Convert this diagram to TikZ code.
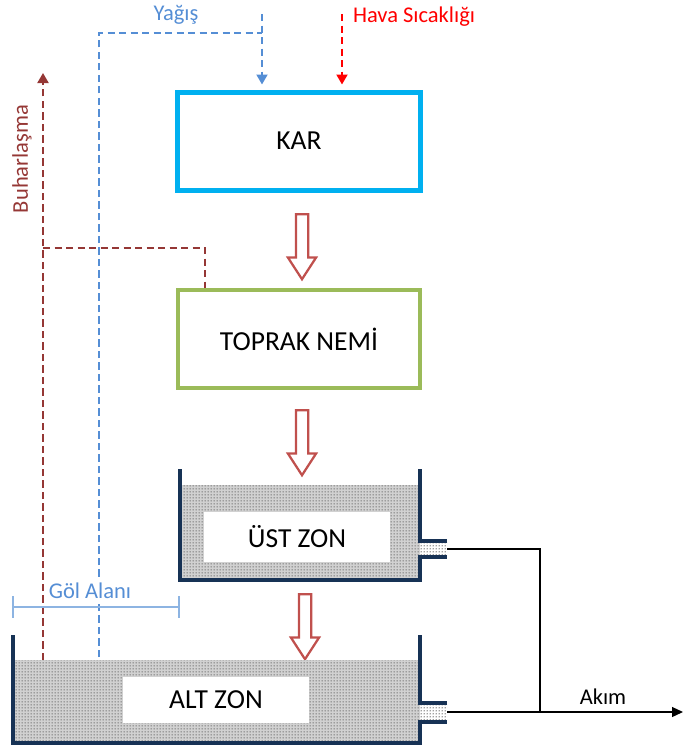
\documentclass[tikz,border=0pt]{standalone}
\usepackage{fontspec}
\setmainfont{Carlito}
\usepackage{tikz}
\usetikzlibrary{arrows.meta,positioning,calc,shapes.arrows,patterns.meta}
\definecolor{karC}{RGB}{0,176,240}
\definecolor{nemC}{RGB}{155,187,89}
\definecolor{okC}{RGB}{192,80,77}
\definecolor{tankC}{RGB}{23,50,85}
\definecolor{buhC}{RGB}{149,55,53}
\definecolor{yagC}{RGB}{85,142,213}
\definecolor{golC}{RGB}{141,180,226}
\tikzdeclarepattern{
  name=finedots,
  type=uncolored,
  bottom left={(0pt,0pt)},
  top right={(1.2pt,1.2pt)},
  tile size={(1.2pt,1.2pt)},
  code={\fill (0.6pt,0.6pt) circle (0.32pt);}
}

\begin{document}
\begin{tikzpicture}[
  x=0.4pt,y=-0.4pt,
  kutu/.style={rectangle,minimum width=96.8pt,minimum height=39.2pt,inner sep=0pt,font=\fontsize{11}{13}\selectfont},
  bos/.style={single arrow,draw=okC,fill=white,line width=0.9pt,minimum height=26pt,minimum width=10.4pt,
              single arrow head extend=3.2pt,single arrow tip angle=66,inner sep=2pt,rotate=-90},
  lbl/.style={font=\fontsize{9}{11}\selectfont,inner sep=1pt},
  yag/.style={yagC,line width=0.8pt,dash pattern=on 2.9pt off 1.7pt},
  buh/.style={buhC,line width=0.8pt,dash pattern=on 2.9pt off 1.7pt},
  sic/.style={red,line width=0.8pt,dash pattern=on 2.9pt off 1.7pt},
  uc/.style={-{Triangle[length=4pt,width=4.4pt]},shorten >=2pt},
  duvar/.style={tankC,line width=1.7pt},
  dolgu/.style={pattern={finedots},pattern color=black!75},
  ic/.style={rectangle,fill=white,inner sep=0pt,font=\fontsize{11}{13}\selectfont},
  akis/.style={black,line width=0.5pt}
]
  \useasboundingbox (0,0) rectangle (683,748);
  % ---------------- KAR / TOPRAK ----------------
  \node[kutu,draw=karC,line width=2pt] (kar) at (299,141) {KAR};
  \node[kutu,draw=nemC,line width=1.7pt] (nem) at (299,339) {TOPRAK NEMİ};
  \node[bos] (ok1) at (302,242) {};
  \node[bos] (ok2) at (302,438) {};
  \node[bos] (ok3) at (305,622) {};
  % ---------------- UST ZON ----------------
  \fill[black!18] (180,485) rectangle (420,580);
  \fill[dolgu] (180,485) rectangle (420,580);
  \fill[dolgu] (420,541) rectangle (447,557);
  \draw[duvar] (180,469) -- (180,580) -- (420,580) -- (420,557) -- (447,557);
  \draw[duvar] (447,541) -- (420,541) -- (420,469);
  \node[ic,minimum width=74pt,minimum height=20pt] (ust) at (297,537) {ÜST ZON};
  \coordinate (ustout) at (447,549);
  % ---------------- ALT ZON ----------------
  \fill[black!18] (13,660) rectangle (420,743);
  \fill[dolgu] (13,660) rectangle (420,743);
  \fill[dolgu] (420,703) rectangle (447,722);
  \draw[duvar] (13,635) -- (13,743) -- (420,743) -- (420,722) -- (447,722);
  \draw[duvar] (447,703) -- (420,703) -- (420,635);
  \node[ic,minimum width=74pt,minimum height=18.4pt] (alt) at (216,700) {ALT ZON};
  \coordinate (altout) at (447,712);
  % ---------------- AKIM ----------------
  \coordinate (birles) at (540,712);
  \coordinate (akimuc) at (683,712);
  \draw[akis] (ustout) -| (birles);
  \draw[akis,-{Triangle[length=4.4pt,width=4pt]}] (altout) -- (akimuc);
  \node[lbl] (akim) at (603,697) {Akım};
  % ---------------- YAGIS ----------------
  \coordinate (yg1) at (99,657);
  \coordinate (yg2) at (262,33);
  \coordinate (yg3) at (262,14);
  \draw[yag] (yg1) |- (yg2);
  \draw[yag,uc] (yg3) -- (yg3 |- kar.north);
  \node[lbl,text=yagC] (yagis) at (176,15) {Yağış};
  % ---------------- HAVA SICAKLIGI ----------------
  \coordinate (hs) at (342,14);
  \draw[sic,uc] (hs) -- (hs |- kar.north);
  \node[lbl,text=red,anchor=west] (hava) at (350,17) {Hava Sıcaklığı};
  % ---------------- BUHARLASMA ----------------
  \coordinate (bh1) at (43,660);
  \coordinate (bh2) at (43,73);
  \coordinate (bh3) at (43,248);
  \coordinate (bh4) at (205,248);
  \draw[buh,-{Triangle[length=4pt,width=4.4pt]}] (bh1) -- (bh2);
  \draw[buh] (bh3) -| (bh4 |- nem.north);
  \node[lbl,text=buhC,rotate=90] (buhar) at (22,159) {Buharlaşma};
  % ---------------- GOL ALANI ----------------
  \coordinate (g1) at (13,607);
  \coordinate (g2) at (179,607);
  \draw[golC,line width=0.6pt] (g1) -- (g2)
    ($(g1)+(0,-11)$) -- ($(g1)+(0,11)$) ($(g2)+(0,-11)$) -- ($(g2)+(0,11)$);
  \node[lbl,text=yagC,fill=white] (gol) at (90,591) {Göl Alanı};
\end{tikzpicture}
\end{document}
